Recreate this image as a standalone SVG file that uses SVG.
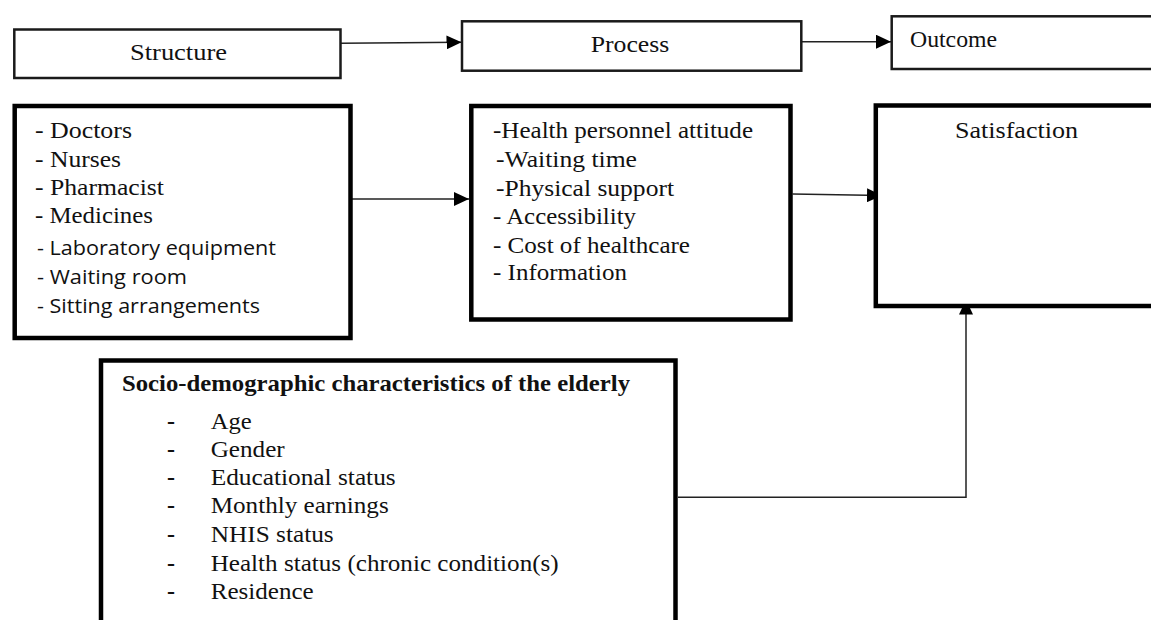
<svg xmlns="http://www.w3.org/2000/svg" width="1151" height="620" viewBox="0 0 1151 620">
<style>
.thin{fill:#fff;stroke:#1a1a1a;stroke-width:2.5}
.thick{fill:#fff;stroke:#000;stroke-width:4.5}
.serif{font-family:"Liberation Serif","Times New Roman",serif;font-size:24px;fill:#111}
.sans{font-family:"Open Sans","Liberation Sans",sans-serif;font-size:20.5px;fill:#111}
.bold{font-family:"Liberation Serif","Times New Roman",serif;font-size:23.5px;font-weight:bold;fill:#111}
.dash{font-weight:bold}
.conn{fill:none;stroke:#222;stroke-width:1.5}
</style>
<defs>
<marker id="arr" markerUnits="userSpaceOnUse" markerWidth="15" markerHeight="14" refX="15" refY="7" orient="auto">
<path d="M0,0 L15,7 L0,14 z" fill="#000"/>
</marker>
</defs>
<rect width="1151" height="620" fill="#fff"/>

<g id="connectors">
<line class="conn" x1="341" y1="43.3" x2="461.5" y2="42.3" marker-end="url(#arr)"/>
<line class="conn" x1="801" y1="41.7" x2="891" y2="41.7" marker-end="url(#arr)"/>
<line class="conn" x1="352" y1="199" x2="469" y2="199" marker-end="url(#arr)"/>
<line class="conn" x1="792.5" y1="194" x2="882" y2="195.5" marker-end="url(#arr)"/>
<path class="conn" d="M678,497.3 H966 V299.5" marker-end="url(#arr)"/>
</g>

<g id="structure">
<rect class="thin" x="14.3" y="29.5" width="326.2" height="48.5"/>
<text class="serif" x="130" y="60" textLength="97" lengthAdjust="spacingAndGlyphs">Structure</text>
</g>

<g id="process">
<rect class="thin" x="462" y="21.3" width="339.3" height="49.4"/>
<text class="serif" x="590.7" y="51.7" textLength="78.6" lengthAdjust="spacingAndGlyphs">Process</text>
</g>

<g id="outcome">
<rect class="thin" x="891.7" y="16.3" width="262" height="52.7"/>
<text class="serif" x="910" y="47.3" textLength="87" lengthAdjust="spacingAndGlyphs">Outcome</text>
</g>

<g id="structure-items">
<rect class="thick" x="14.7" y="106" width="335.8" height="232"/>
<text class="serif" x="35" y="138.3" textLength="97" lengthAdjust="spacingAndGlyphs">- Doctors</text>
<text class="serif" x="35" y="166.7" textLength="86" lengthAdjust="spacingAndGlyphs">- Nurses</text>
<text class="serif" x="35" y="195" textLength="129" lengthAdjust="spacingAndGlyphs">- Pharmacist</text>
<text class="serif" x="35" y="223" textLength="118" lengthAdjust="spacingAndGlyphs">- Medicines</text>
<text class="sans" x="37" y="255" textLength="239" lengthAdjust="spacingAndGlyphs">- Laboratory equipment</text>
<text class="sans" x="37" y="284" textLength="150" lengthAdjust="spacingAndGlyphs">- Waiting room</text>
<text class="sans" x="37" y="313" textLength="223" lengthAdjust="spacingAndGlyphs">- Sitting arrangements</text>
</g>

<g id="process-items">
<rect class="thick" x="471.3" y="106" width="319.2" height="213.5"/>
<text class="serif" x="493" y="138.3" textLength="260" lengthAdjust="spacingAndGlyphs">-Health personnel attitude</text>
<text class="serif" x="496" y="166.7" textLength="141" lengthAdjust="spacingAndGlyphs">-Waiting time</text>
<text class="serif" x="496" y="196" textLength="178" lengthAdjust="spacingAndGlyphs">-Physical support</text>
<text class="serif" x="493" y="224" textLength="143" lengthAdjust="spacingAndGlyphs">- Accessibility</text>
<text class="serif" x="493" y="252.7" textLength="197" lengthAdjust="spacingAndGlyphs">- Cost of healthcare</text>
<text class="serif" x="493" y="280" textLength="134" lengthAdjust="spacingAndGlyphs">- Information</text>
</g>

<g id="satisfaction">
<rect class="thick" x="875.8" y="105.5" width="290" height="200.5"/>
<text class="serif" x="955" y="137.7" textLength="123" lengthAdjust="spacingAndGlyphs">Satisfaction</text>
</g>

<g id="socio-demographic">
<rect class="thick" x="101" y="360.5" width="574.5" height="280"/>
<text class="bold" x="122" y="391" textLength="508" lengthAdjust="spacingAndGlyphs">Socio-demographic characteristics of the elderly</text>
<g class="serif">
<text class="dash" x="167" y="429">-</text><text x="210.7" y="429" textLength="41" lengthAdjust="spacingAndGlyphs">Age</text>
<text class="dash" x="167" y="457">-</text><text x="210.7" y="457" textLength="74" lengthAdjust="spacingAndGlyphs">Gender</text>
<text class="dash" x="167" y="485">-</text><text x="210.7" y="485" textLength="185" lengthAdjust="spacingAndGlyphs">Educational status</text>
<text class="dash" x="167" y="513">-</text><text x="210.7" y="513" textLength="178" lengthAdjust="spacingAndGlyphs">Monthly earnings</text>
<text class="dash" x="167" y="542">-</text><text x="210.7" y="542" textLength="123" lengthAdjust="spacingAndGlyphs">NHIS status</text>
<text class="dash" x="167" y="570.5">-</text><text x="210.7" y="570.5" textLength="348" lengthAdjust="spacingAndGlyphs">Health status (chronic condition(s)</text>
<text class="dash" x="167" y="599">-</text><text x="210.7" y="599" textLength="103" lengthAdjust="spacingAndGlyphs">Residence</text>
</g>
</g>
</svg>
